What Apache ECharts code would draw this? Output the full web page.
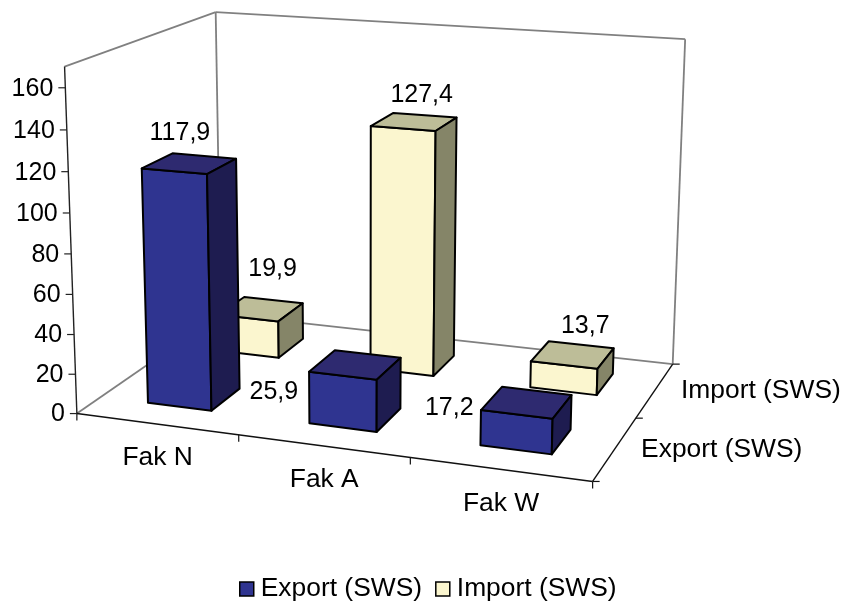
<!DOCTYPE html>
<html>
<head>
<meta charset="utf-8">
<style>html,body{margin:0;padding:0;background:#fff}#c{width:844px;height:601px}</style>
<script src="https://cdn.jsdelivr.net/npm/echarts@6/dist/echarts.min.js"></script>
</head>
<body>
<div id="c"></div>
<script>
// ---- data ----
const categories = ['Fak N', 'Fak A', 'Fak W'];
const seriesNames = ['Export (SWS)', 'Import (SWS)'];
const exportValues = [117.9, 25.9, 17.2];
const importValues = [19.9, 127.4, 13.7];
const valueTicks = [0, 20, 40, 60, 80, 100, 120, 140, 160];

// ---- look ----
const FONT = '"Liberation Sans", Arial, sans-serif';
const FS = 25, FS_WORD = 26.4;
const AXIS_TOP = 170;           // the walls end a little above the last tick
const BAR_HALF = 0.2;           // half a bar, in category / depth units
const palette = {
  'Export (SWS)': {front: '#2f3490', top: '#2e2a70', side: '#1e1c50'},
  'Import (SWS)': {front: '#fbf6cf', top: '#bdbd98', side: '#858568'}
};
// data label offsets from the centre of each bar's top face
const labelOffsets = {
  'Export (SWS)': [[-9, -31], [-81, 26], [-77, 5]],
  'Import (SWS)': [[12, -41], [8, -28], [13, -30]]
};

// ---- camera: fitted to the frame of the chart ----
// [category units, value, depth units, screen x, screen y]
const calibration = [
  [0,0,0,77,414],[3,0,0,592,482],[0,0,2,219,315],[3,0,2,673,363],
  [0,170,0,63,66],[0,170,2,217,12],[3,170,2,685,40],
  [0,20,0,76,374],[0,40,0,75,334],[0,60,0,73.5,294],[0,80,0,72,253],
  [0,100,0,70,213],[0,120,0,68.5,172],[0,140,0,66.5,130],[0,160,0,64.5,88],
  [1,0,0,239,435],[2,0,0,409,459],[3,0,1,637,417]
];
function solve(A, b) {
  const n = b.length, M = A.map((r, i) => r.concat(b[i]));
  for (let i = 0; i < n; i++) {
    let p = i;
    for (let r = i + 1; r < n; r++) if (Math.abs(M[r][i]) > Math.abs(M[p][i])) p = r;
    [M[i], M[p]] = [M[p], M[i]];
    for (let r = 0; r < n; r++) {
      if (r === i) continue;
      const f = M[r][i] / M[i][i];
      for (let c = i; c <= n; c++) M[r][c] -= f * M[i][c];
    }
  }
  return M.map((r, i) => r[n] / r[i]);
}
const cam = (function () {
  const n = 11, ATA = [], ATb = new Array(n).fill(0);
  for (let i = 0; i < n; i++) ATA.push(new Array(n).fill(0));
  const add = (row, t) => {
    for (let i = 0; i < n; i++) {
      ATb[i] += row[i] * t;
      for (let j = 0; j < n; j++) ATA[i][j] += row[i] * row[j];
    }
  };
  calibration.forEach(c => {
    const x = c[0] / 3, y = c[1] / AXIS_TOP, z = c[2] / 2, u = c[3] / 1000, v = c[4] / 1000;
    add([x, y, z, 1, 0, 0, 0, 0, -u * x, -u * y, -u * z], u);
    add([0, 0, 0, 0, x, y, z, 1, -v * x, -v * y, -v * z], v);
  });
  return solve(ATA, ATb);
})();
function project(x, y, z) {
  const p = cam, w = p[8] * x + p[9] * y + p[10] * z + 1;
  return [(p[0] * x + p[1] * y + p[2] * z + p[3]) / w * 1000,
          (p[4] * x + p[5] * y + p[6] * z + p[7]) / w * 1000];
}
// category units + value + depth units -> screen, through the chart's own axes
function pt(api, cx, val, depth) {
  const band = api.size([1, 0])[0];
  const base = api.coord([0, val]);
  const gridH = api.coord([0, 0])[1] - api.coord([0, AXIS_TOP])[1];
  const nx = (base[0] + (cx - 0.5) * band - (api.coord([0, 0])[0] - band / 2)) / (3 * band);
  const ny = (api.coord([0, 0])[1] - base[1]) / gridH;
  return project(nx, ny, depth / 2);
}
const el = {
  line: (a, b, color, w) => ({type: 'line', shape: {x1: a[0], y1: a[1], x2: b[0], y2: b[1]},
    style: {stroke: color, lineWidth: w}}),
  text: (t, x, y, align, size) => ({type: 'text', style: {text: t, x: x, y: y + 1, align: align || 'center',
    verticalAlign: 'middle', fontSize: size || FS, fontFamily: FONT, fill: '#000'}})
};

function barItem(name, row) {
  return function (params, api) {
    const cat = api.value(0), v = api.value(1), c = palette[name];
    const x0 = cat + 0.5 - BAR_HALF, x1 = cat + 0.5 + BAR_HALF;
    const z0 = row + 0.5 - BAR_HALF, z1 = row + 0.5 + BAR_HALF;
    const P = (x, y, z) => pt(api, x, y, z);
    const fbl = P(x0, 0, z0), fbr = P(x1, 0, z0), ftl = P(x0, v, z0), ftr = P(x1, v, z0);
    const bbr = P(x1, 0, z1), btl = P(x0, v, z1), btr = P(x1, v, z1);
    const poly = (pts, fill) => ({type: 'polygon', shape: {points: pts},
      style: {fill: fill, stroke: '#000', lineWidth: 2, lineJoin: 'round'}});
    const centre = [(ftl[0] + btr[0]) / 2, (ftl[1] + btr[1]) / 2];
    const off = labelOffsets[name][cat];
    return {type: 'group', children: [
      poly([fbl, fbr, ftr, ftl], c.front),
      poly([ftl, ftr, btr, btl], c.top),
      poly([fbr, bbr, btr, ftr], c.side),
      el.text(String(v).replace('.', ','), centre[0] + off[0], centre[1] + off[1])
    ]};
  };
}

function frameItem(params, api) {
  const n = categories.length, d = seriesNames.length, T = AXIS_TOP, k = [];
  const P = (x, y, z) => pt(api, x, y, z);
  const GREY = '#808080', wall = 1.8;
  [[[0,0,0],[0,0,d]], [[0,0,d],[n,0,d]], [[n,0,d],[n,T,d]], [[n,T,d],[0,T,d]],
   [[0,T,d],[0,0,d]], [[0,T,d],[0,T,0]]].forEach(s =>
    k.push(el.line(P.apply(null, s[0]), P.apply(null, s[1]), GREY, wall)));
  // value axis
  k.push(el.line(P(0, 0, 0), P(0, T, 0), '#222', 1.4));
  valueTicks.forEach(t => {
    const a = P(0, t, 0);
    k.push(el.line(a, [a[0] - 7, a[1]], '#222', 1.2));
    k.push(el.text(String(t), a[0] - 12, a[1], 'right'));
  });
  // category axis
  k.push(el.line(P(0, 0, 0), P(n, 0, 0), '#111', 1.4));
  for (let i = 0; i <= n; i++) {
    const a = P(i, 0, 0);
    k.push(el.line(a, [a[0], a[1] + 7], '#111', 1.2));
  }
  categories.forEach((c, i) => {
    const a = P(i + 0.5, 0, 0);
    k.push(el.text(c, a[0] + 1, a[1] + 33, 'center', FS_WORD));
  });
  // depth axis
  k.push(el.line(P(n, 0, 0), P(n, 0, d), '#111', 1.4));
  for (let i = 0; i <= d; i++) {
    const a = P(n, 0, i);
    k.push(el.line(a, [a[0] + 7, a[1]], '#111', 1.2));
  }
  seriesNames.forEach((s, i) => {
    const a = P(n, 0, i + 0.5);
    k.push(el.text(s, a[0] + 26, a[1], 'left', FS_WORD));
  });
  return {type: 'group', children: k};
}

const chart = echarts.init(document.getElementById('c'), null, {renderer: 'canvas'});
chart.setOption({
  animation: false,
  backgroundColor: '#fff',
  grid: {left: 0, right: 0, top: 0, bottom: 0},
  xAxis: {type: 'category', data: categories, show: false},
  yAxis: {type: 'value', min: 0, max: AXIS_TOP, show: false},
  legend: {
    left: 234, top: 571, icon: 'rect', itemWidth: 14, itemHeight: 14, itemGap: 13,
    textStyle: {fontFamily: FONT, fontSize: FS_WORD, color: '#000', padding: [0, 0, 0, 2]},
    selectedMode: false,
    data: seriesNames.map(n => ({name: n,
      itemStyle: {color: palette[n].front, borderColor: '#000', borderWidth: 1.5}}))
  },
  series: [
    {type: 'custom', name: 'frame', data: [[0, 0]], renderItem: frameItem, silent: true, z: 1},
    {type: 'custom', name: seriesNames[1], itemStyle: {color: palette[seriesNames[1]].front},
     data: importValues.map((v, i) => [i, v]), renderItem: barItem(seriesNames[1], 1), z: 2},
    {type: 'custom', name: seriesNames[0], itemStyle: {color: palette[seriesNames[0]].front},
     data: exportValues.map((v, i) => [i, v]), renderItem: barItem(seriesNames[0], 0), z: 3}
  ]
});
</script>
</body>
</html>
